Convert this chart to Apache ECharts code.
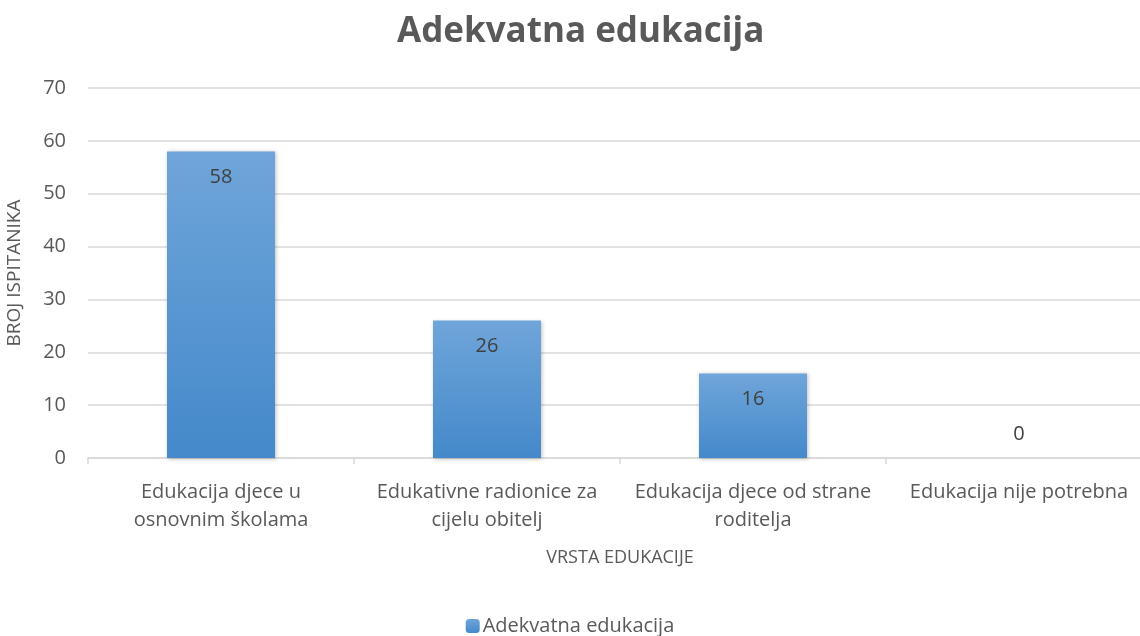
<!DOCTYPE html>
<html>
<head>
<meta charset="utf-8">
<script src="https://cdn.jsdelivr.net/npm/echarts@6/dist/echarts.min.js"></script>
<style>
  html, body { margin: 0; padding: 0; background: #fff; }
  #main { width: 1140px; height: 636px; }
</style>
</head>
<body>
<div id="main"></div>
<script>
var categories = [
  "Edukacija djece u\nosnovnim školama",
  "Edukativne radionice za\ncijelu obitelj",
  "Edukacija djece od strane\nroditelja",
  "Edukacija nije potrebna"
];
var values = [58, 26, 16, 0];
var seriesName = "Adekvatna edukacija";

var chart = echarts.init(document.getElementById("main"));
var font = "'Open Sans', 'Noto Sans', sans-serif";

var option = {
  backgroundColor: "#fff",
  title: {
    text: "Adekvatna edukacija",
    left: 392,
    top: 10,
    textStyle: { fontFamily: font, fontSize: 35, fontWeight: "bold", color: "#595959" }
  },
  legend: {
    top: 611,
    left: "center",
    itemWidth: 14,
    itemHeight: 14,
    itemGap: 4,
    textStyle: { fontFamily: font, fontSize: 20, color: "#595959", padding: [0, 0, 0, -2] },
    data: [seriesName]
  },
  grid: { left: 88, right: -12, top: 88, bottom: 178, containLabel: false, outerBoundsMode: "none" },
  xAxis: {
    type: "category",
    data: categories,
    name: "VRSTA EDUKACIJE",
    nameLocation: "middle",
    nameGap: 91,
    nameTextStyle: { fontFamily: font, fontSize: 18, color: "#595959" },
    axisLine: { lineStyle: { color: "#d9d9d9", width: 1.5 } },
    axisTick: { show: true, length: 6, lineStyle: { color: "#d9d9d9", width: 1.5 } },
    axisLabel: { fontFamily: font, fontSize: 20, color: "#595959", lineHeight: 28, margin: 20, interval: 0 }
  },
  yAxis: {
    type: "value",
    min: 0,
    max: 70,
    interval: 10,
    name: "BROJ ISPITANIKA",
    nameLocation: "middle",
    nameGap: 64,
    nameTextStyle: { fontFamily: font, fontSize: 19, color: "#595959" },
    axisLine: { show: false },
    axisTick: { show: false },
    splitLine: { lineStyle: { color: "#d9d9d9", width: 1.5 } },
    axisLabel: { fontFamily: font, fontSize: 20, color: "#595959", margin: 22 }
  },
  series: [{
    type: "bar",
    name: seriesName,
    data: values.map(function (v) {
      // the zero bar has its label above the baseline
      return v === 0 ? { value: v, label: { position: "top", distance: 14 } } : v;
    }),
    barWidth: "40.6%",
    itemStyle: {
      color: new echarts.graphic.LinearGradient(0, 0, 0, 1, [
        { offset: 0, color: "#6fa5da" },
        { offset: 1, color: "#4489ca" }
      ]),
      shadowColor: "rgba(0,0,0,0.25)",
      shadowBlur: 4,
      shadowOffsetX: 1,
      shadowOffsetY: 1
    },
    label: {
      show: true,
      position: "insideTop",
      distance: 16,
      fontFamily: font,
      fontSize: 20,
      color: "#404040"
    }
  }]
};
chart.setOption(option);
</script>
</body>
</html>
